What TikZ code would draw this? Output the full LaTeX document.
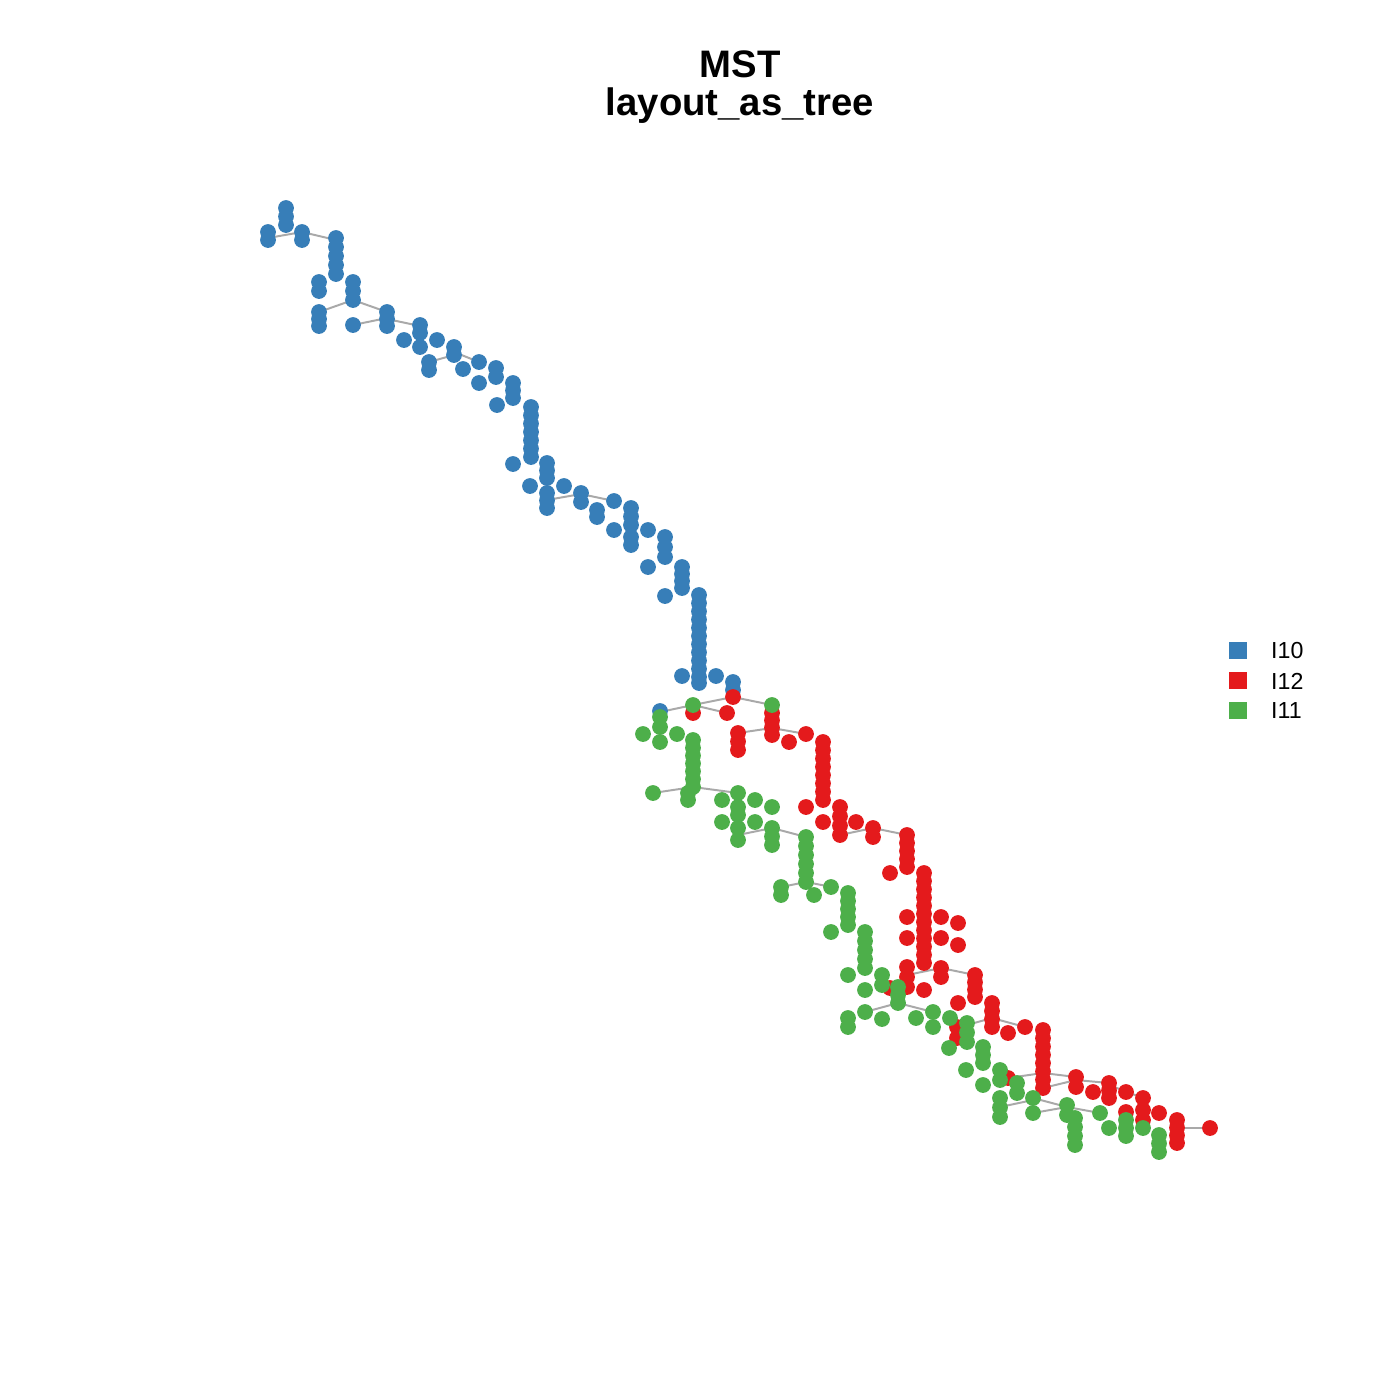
\documentclass[tikz,border=0pt]{standalone}
\usepackage{fontspec}
\setmainfont{Liberation Sans}
\definecolor{cblue}{HTML}{377EB8}
\definecolor{cred}{HTML}{E41A1C}
\definecolor{cgreen}{HTML}{4DAF4A}
\definecolor{edgegray}{HTML}{A9A9A9}
\newcommand\dotcol[3]{%
  \pgfmathtruncatemacro\nn{round((#3-#2)/8.2)}%
  \ifnum\nn=0
    \fill (#1,#2) circle[radius=7.9];
  \else
    \foreach \k in {0,...,\nn}{\fill (#1,{#2+(#3-#2)*\k/\nn}) circle[radius=7.9];}
  \fi}
\newcommand\dotlist[1]{\foreach \a/\b/\c in {#1}{\dotcol{\a}{\b}{\c}}}
\tikzset{edge/.style={draw=edgegray,line width=2.8pt},
  legbox/.style={minimum width=0.9cm,minimum height=0.85cm,inner sep=0pt},
  legtext/.style={anchor=west,font=\fontsize{33}{36}\selectfont,inner sep=0pt}}
\begin{document}
\begin{tikzpicture}[x=0.05cm,y=-0.05cm]
\useasboundingbox (0,0) rectangle (1400,1400);
\fill[white] (0,0) rectangle (1400,1400);
% title
\node[anchor=base,font=\bfseries\fontsize{54.5}{58}\selectfont,inner sep=0pt] (t1) at (740,77) {MST};
\node[anchor=base,font=\bfseries\fontsize{54.5}{58}\selectfont,inner sep=0pt] (t2) at (740,115) {layout\_as\_tree};
% edges
\foreach \xa/\ya/\xb/\yb in {268/238/302/232, 302/232/336/240, 319/312/353/300, 353/300/387/312,
  353/325/387/318, 387/319/420/326, 429/362/454/355, 454/352/479/362, 547/500/581/494, 581/494/614/501,
  660/712/693/705, 693/705/733/697, 733/697/772/705, 693/705/727/713, 738/733/772/728, 772/728/806/734,
  653/793/693/787, 693/787/738/793, 738/835/772/828, 772/828/806/837, 840/835/873/828, 873/828/907/835,
  781/887/806/882, 806/882/832/887, 907/975/941/968, 941/968/975/975, 865/1012/898/1003, 898/1003/933/1012,
  967/1025/992/1018, 992/1018/1025/1027, 1008/1078/1043/1073, 1000/1107/1033/1100, 1033/1098/1067/1107,
  1033/1113/1067/1107, 1067/1107/1100/1113, 1043/1073/1076/1077, 1043/1088/1076/1080, 1076/1080/1109/1083,
  1109/1085/1143/1098, 1177/1128/1210/1128}
  {\draw[edge] (\xa,\ya) -- (\xb,\yb);}
% blue
\begin{scope}[fill=cblue]
\dotlist{286/208/225, 268/232/240, 302/232/240, 336/238/274, 319/282/291, 353/282/300, 319/312/326,
 353/325/325, 387/312/326, 420/325/333, 404/340/340, 420/347/347, 437/340/340, 454/347/355, 429/362/370,
 463/369/369, 479/362/362, 496/368/377, 479/383/383, 513/383/398, 497/405/405, 531/407/457, 513/464/464,
 547/463/478, 530/486/486, 564/486/486, 547/493/508, 581/493/502, 597/510/517, 614/501/501, 631/508/525,
 614/530/530, 648/530/530, 631/537/545, 665/537/557, 648/567/567, 682/567/588, 665/596/596, 699/595/677,
 682/676/676, 699/683/683, 716/676/676, 733/682/690, 660/711/711}
\end{scope}
% red
\begin{scope}[fill=cred]
\dotlist{733/697/697, 693/713/713, 727/713/713, 772/713/735, 738/733/750, 789/742/742, 806/734/734,
 823/742/800, 806/807/807, 823/822/822, 840/807/835, 856/822/822, 873/828/837, 907/835/867, 890/873/873,
 924/873/963, 907/917/917, 941/917/917, 958/923/923, 907/938/938, 941/938/938, 958/945/945, 907/967/987,
 941/968/977, 924/990/990, 890/988/988, 975/975/997, 958/1003/1003, 992/1003/1027, 1008/1033/1033,
 1025/1027/1027, 1043/1030/1088, 957/1027/1038, 1008/1078/1078, 1076/1077/1087, 1093/1092/1092,
 1109/1083/1098, 1126/1092/1092, 1143/1098/1110, 1126/1112/1112, 1159/1113/1113, 1143/1120/1120,
 1177/1120/1143, 1210/1128/1128}
\end{scope}
% green
\begin{scope}[fill=cgreen]
\dotlist{693/705/705, 772/705/705, 660/717/727, 643/734/734, 677/734/734, 660/742/742, 693/740/787,
 653/793/793, 688/793/800, 738/793/793, 722/800/800, 755/800/800, 772/807/807, 738/807/815, 722/822/822,
 755/822/822, 738/828/840, 772/828/845, 806/837/882, 781/887/895, 814/895/895, 831/887/887, 848/893/925,
 831/932/932, 865/932/968, 848/975/975, 882/975/985, 865/990/990, 898/987/1003, 865/1012/1012,
 848/1018/1027, 882/1019/1019, 916/1018/1018, 933/1012/1012, 933/1027/1027, 950/1018/1018, 967/1023/1042,
 949/1048/1048, 983/1047/1063, 966/1070/1070, 1000/1070/1080, 983/1085/1085, 1017/1083/1093,
 1000/1098/1117, 1033/1098/1098, 1033/1113/1113, 1067/1105/1115, 1075/1118/1145, 1100/1113/1113,
 1109/1128/1128, 1126/1120/1136, 1143/1128/1128, 1159/1135/1152}
\end{scope}
% legend
\node[legbox,fill=cblue] (lb1) at (1238,650) {};
\node[legbox,fill=cred] (lb2) at (1238,680) {};
\node[legbox,fill=cgreen] (lb3) at (1238,710) {};
\node[legtext] (lt1) at (1271,651) {I10};
\node[legtext] (lt2) at (1271,681) {I12};
\node[legtext] (lt3) at (1271,711) {I11};
\end{tikzpicture}
\end{document}
